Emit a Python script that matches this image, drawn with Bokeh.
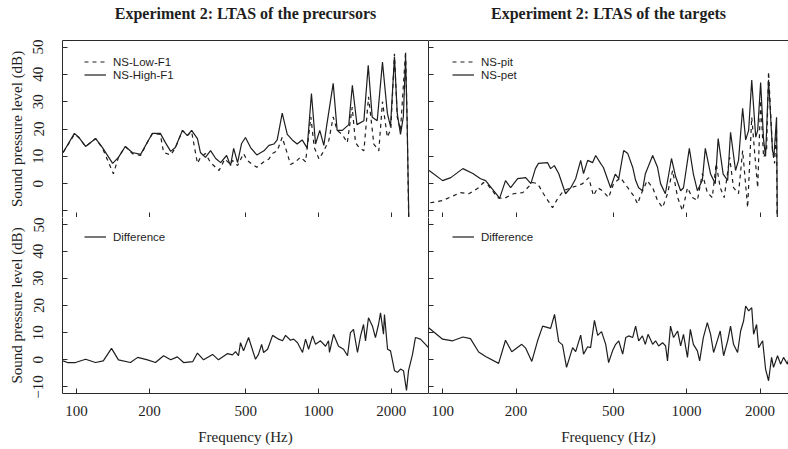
from bokeh.plotting import figure
from bokeh.layouts import row, column
from bokeh.models import (Range1d, FixedTicker, PrintfTickFormatter, Legend, LegendItem,
                          LogAxis, CustomJSTickFormatter)
from bokeh.embed import file_html
from bokeh.resources import INLINE

# ---------------- data ----------------
titles = ["Experiment 2: LTAS of the precursors", "Experiment 2: LTAS of the targets"]
x_ticks = [100, 200, 500, 1000, 2000]
y_ticks = [-10, 0, 10, 20, 30, 40, 50]

# precursors: NS-High-F1 (solid)
hi_f = [88, 98, 102, 109, 120, 128, 141, 149, 159, 170, 184, 198, 206, 222, 233, 245, 256, 274, 287, 299,
        316, 325, 341, 358, 376, 394, 417, 433, 446, 463, 481, 499, 524, 556, 595, 624, 654, 675, 708, 743,
        779, 816, 856, 898, 935, 972, 1012, 1052, 1082, 1150, 1194, 1254, 1334, 1380, 1442, 1540, 1605, 1667, 1748, 1838,
        1925, 1984, 2060, 2115, 2182, 2242, 2290, 2325, 2380]
hi_db = [11.4, 18.4, 17, 13.6, 16.5, 13.2, 7.4, 9.6, 13.6, 11.4, 10.7, 15.8, 18.4, 18.4, 15, 11.8, 13.2, 19.5, 17.6, 19.5,
         16.5, 11.4, 9.6, 12.1, 9.2, 7.7, 10.3, 6.6, 12.9, 7.7, 14.7, 16.9, 13.2, 10.5, 12, 14, 14.5, 16, 25.8, 18,
         16, 14.5, 16, 13, 33, 14.5, 19.5, 14, 21.5, 36.7, 19.5, 19.5, 21.6, 36, 21.6, 23, 43.3, 24.3, 23, 44.5,
         25.8, 20.9, 46.5, 25.8, 18, 24.5, 46.5, 22, -30]

# precursors: NS-Low-F1 (dashed)
lo_f = [88, 98, 102, 109, 120, 128, 142, 149, 159, 170, 184, 198, 206, 222, 229, 245, 256, 274, 287, 299,
        316, 325, 341, 358, 388, 410, 433, 441, 463, 490, 507, 533, 556, 595, 624, 645, 675, 708, 743, 766,
        804, 843, 884, 930, 960, 1005, 1052, 1103, 1150, 1194, 1254, 1315, 1378, 1422, 1469, 1540, 1610, 1693, 1775, 1838,
        1925, 1990, 2060, 2115, 2182, 2290, 2325, 2375]
lo_db = [11.4, 18, 17, 13.6, 16.5, 13, 3.6, 9.6, 13.6, 11, 10.3, 15.8, 18.4, 18, 11.4, 10.5, 13, 19.5, 17.6, 19,
         7.4, 9.5, 11, 7.7, 4.8, 9, 7, 8.5, 6.6, 11, 8.5, 7, 6, 8, 9, 11, 12, 17, 11, 7,
         8, 9.7, 8, 24.4, 13.3, 9, 12, 15.8, 24.4, 19.5, 18, 15, 28, 15, 13.3, 12, 31.8, 14.5, 12, 30,
         17, 20, 47.5, 24.4, 19.5, 48.5, 22, -30]

# targets: NS-pet (solid)
pet_f = [88, 100, 108, 121, 133, 143, 150, 168, 171, 181, 190, 203, 219, 230, 240, 247, 269, 277, 287, 299,
         319, 335, 351, 368, 378, 393, 412, 424, 444, 456, 488, 510, 527, 552, 574, 601, 618, 636, 659, 677,
         726, 760, 782, 818, 867, 902, 945, 971, 1026, 1066, 1107, 1160, 1193, 1254, 1310, 1347, 1412, 1473, 1514, 1587,
         1632, 1697, 1746, 1796, 1849, 1920, 1956, 2011, 2068, 2107, 2167, 2250, 2280, 2337, 2362]
pet_db = [4.8, 1.1, 2.2, 5.5, 3.7, 1.8, 1.1, -4.4, -5.5, 1.1, -1.5, 1.8, 2.2, 0, 5.5, 7.4, 7.7, 5.5, 6.6, 3.7,
          -3.7, -1.5, 1.8, 8.5, 3.7, 8.5, 7.7, 10.3, 7.4, 5.9, -1.5, 3.5, 1.8, 12.1, 11, 6, 1.2, -1.5, -2.6, 3.5,
          10.3, 6, 0, -3.7, 9.2, 2.5, -2.6, -1.5, 12.9, 3.5, -2.6, 1.2, 12.9, 3.5, 0, 16.5, 3.5, 1.2, 18.8, 4.8,
          8.5, 27.6, 16, 19.5, 37.9, 17, 19.5, 37, 16, 10, 38, 12, 10, 24.3, -30]

# targets: NS-pit (dashed)
pit_f = [89, 100, 111, 118, 128, 139, 147, 154, 168, 178, 195, 213, 234, 245, 259, 282, 296, 313, 335, 358,
         375, 397, 415, 432, 452, 479, 502, 536, 574, 606, 630, 647, 689, 726, 760, 797, 835, 876, 919, 962,
         1008, 1056, 1107, 1160, 1216, 1274, 1322, 1373, 1426, 1501, 1557, 1632, 1697, 1779, 1849, 1902, 1956, 2011, 2068, 2127,
         2167, 2250, 2293, 2337, 2355]
pit_db = [-7, -6.2, -4.4, -3.3, -3.7, -1.8, 0.4, -0.7, -5.1, -5.5, -3.7, -3.3, 0.4, 0, -3.7, -8.8, -5.5, -2.6, -1.5, -0.7,
          0, 2.2, -4.4, -1.5, -2.6, -5.1, 0, 2.2, -1.5, -4.4, -7.4, -4.4, 1.1, -1.5, -6.2, -8.8, -3.7, 4.8, -5.1, -9.9,
          -1.5, -5.1, -6.2, 3.7, -3.3, -5.1, 7.4, -1.5, -5.1, 9.6, -1.5, -3.7, 12.1, -8.8, 24.3, 11, -1.5, 30.5, 9.6, 12.1,
          41, 12.1, 7.4, 20.6, -30]

# precursors: difference
dl_f = [88, 91.8, 99, 109, 119.8, 129, 139.5, 149, 167, 179, 196.5, 212, 229, 245, 261, 277, 302, 316, 335, 365,
        386, 421, 441, 454, 467, 476, 490, 514, 549, 565, 582, 593, 616, 646, 684, 710, 731, 766, 789, 819,
        859, 884, 910, 945, 972, 1019, 1069, 1100, 1110, 1154, 1210, 1269, 1318, 1355, 1395, 1449, 1492, 1535, 1564, 1609,
        1671, 1719, 1770, 1804, 1856, 1873, 1929, 1984, 2061, 2121, 2182, 2245, 2310, 2355, 2446, 2515, 2638, 2767, 2848]
dl_db = [-0.4, -1, -1, 0.2, -1, -0.4, 4.2, 0, -1, 0.9, 0, -1, 1.5, 0, 1.1, -1, -0.7, 2.5, 0, 2,
         0, 2.3, 1.8, 3, 1.5, 6.3, 3.3, 8.2, 0.2, 2, 5.7, 2.7, 3.9, 9, 7.6, 7, 9, 7.2, 7.6, 6.3,
         2.7, 7.6, 3.9, 8.8, 5.7, 7, 5, 7, 2.7, 9.4, 5, 3.9, 1.5, 10, 11.2, 2.7, 8.8, 13, 7, 15.5,
         12.4, 8.2, 13, 17.3, 9.4, 16.7, 3.9, 3.3, -4, -4.6, -3.4, -4, -11.3, -4, 2, 8.2, 7.6, 5.7, 4.5]

# targets: difference
dr_f = [87.6, 100, 110, 121, 130, 140.5, 150, 169.6, 181, 192, 211, 219, 232, 245, 257, 277, 287.5, 299, 310, 322,
        341, 351, 368, 378, 393, 404, 419, 432, 448, 466, 479, 497, 512, 527, 547, 563, 579, 601, 618, 636,
        659, 677, 695, 726, 746, 768, 797, 820, 835, 859, 884, 919, 945, 971, 1008, 1036, 1066, 1107, 1131, 1171,
        1216, 1254, 1290, 1335, 1373, 1418, 1473, 1514, 1557, 1618, 1665, 1712, 1746, 1796, 1849, 1882, 1936, 1973, 2049, 2107,
        2167, 2230, 2271, 2359, 2428, 2496, 2591, 2616]
dr_db = [11.8, 7.6, 7, 8.4, 7.8, 2.9, 1.2, -1.3, 7.2, 3, 5.7, 4.3, -0.6, 7, 12.4, 11.6, 16.7, 6.7, 5.5, -2.8,
         4.5, 3, 9.1, 2.1, 4.8, 4.5, 14.5, 9, 10.4, 5.7, -1, 3.3, 5.7, 7, 2.1, 8.2, 8.8, 8.2, 12.4, 7,
         8.8, 5.7, 9.4, 5.7, 7, 5.1, 6.3, 5.1, -0.4, 12.4, 8.2, 10.6, 5.1, 9.4, 0.9, 11.2, 5.7, 3.3, -0.4, 8.2,
         13.7, 9.4, 2.7, 7, 10.6, 1.5, 7, 12.4, 5.7, 2.7, 10.6, 14.3, 19.8, 18, 19.2, 9.4, 13, 4.5, 7, -3.4,
         -7.7, 0.9, -2.8, 1.5, -1.6, 0.9, -1.6, 0]

# ---------------- styling ----------------
SERIF = "Liberation Serif"
SANS = "Liberation Sans"
INK = "#1e1e1e"
AX = "#2a2a2a"
DASH = "4 4"


def panel(width, height, x_end, left, top, title=None):
    p = figure(width=width, height=height, x_axis_type="log",
               x_range=Range1d(87.5, x_end), y_range=Range1d(-12.4, 52.4),
               output_backend="svg", toolbar_location=None)
    p.min_border_left = 62 if left else 0
    p.min_border_right = 0
    p.min_border_top = 40 if top else 0
    p.min_border_bottom = 0 if top else 56
    p.outline_line_color = None
    p.xgrid.visible = False
    p.ygrid.visible = False
    p.background_fill_color = "white"
    p.border_fill_color = "white"

    xa = p.xaxis[0]
    xa.ticker = FixedTicker(ticks=x_ticks)
    xa.axis_line_color = AX
    xa.major_tick_line_color = AX
    xa.major_tick_in = 5
    xa.major_tick_out = 0
    xa.minor_tick_line_color = None
    if top:
        xa.formatter = CustomJSTickFormatter(code="return ''")
        xa.major_label_standoff = 0
        xa.major_label_text_font_size = "1px"
    else:
        xa.formatter = PrintfTickFormatter(format="%d")
        xa.major_label_text_font = SERIF
        xa.major_label_text_font_size = "15px"
        xa.major_label_text_color = INK
        xa.major_label_standoff = 12
        xa.axis_label = "Frequency (Hz)"
        xa.axis_label_text_font = SERIF
        xa.axis_label_text_font_size = "15px"
        xa.axis_label_text_font_style = "normal"
        xa.axis_label_text_color = INK
        xa.axis_label_standoff = 10

    ya = p.yaxis[0]
    ya.ticker = FixedTicker(ticks=y_ticks)
    ya.axis_line_color = AX
    ya.major_tick_line_color = AX
    ya.major_tick_in = 5
    ya.major_tick_out = 0
    ya.minor_tick_line_color = None
    if left:
        ya.major_label_text_font = SERIF
        ya.major_label_text_font_size = "15px"
        ya.major_label_text_color = INK
        ya.major_label_orientation = "vertical"
        ya.major_label_standoff = 19
        ya.axis_label = "Sound pressure level (dB)"
        ya.axis_label_text_font = SERIF
        ya.axis_label_text_font_size = "15px"
        ya.axis_label_text_font_style = "normal"
        ya.axis_label_text_color = INK
        ya.axis_label_standoff = 6
        if top:
            ya.major_label_overrides = {-10: ""}
    else:
        ya.formatter = CustomJSTickFormatter(code="return ''")
        ya.major_label_standoff = 0
        ya.major_label_text_font_size = "1px"

    if top:
        # top frame edge; its axis label carries the panel title
        ta = LogAxis(ticker=FixedTicker(ticks=[]), axis_line_color=AX,
                     major_tick_line_color=None, minor_tick_line_color=None,
                     major_label_text_font_size="1px", major_label_standoff=0,
                     axis_label=title, axis_label_text_font=SERIF,
                     axis_label_text_font_size="16px", axis_label_text_font_style="bold",
                     axis_label_text_color=INK, axis_label_standoff=19)
        p.add_layout(ta, "above")
    return p


def add_legend(p, items, x, y):
    leg = Legend(items=items, location=(x, y), orientation="vertical",
                 padding=0, margin=0, spacing=0,
                 glyph_width=22, glyph_height=13, label_height=13, label_standoff=7,
                 label_text_font=SANS, label_text_font_size="11.5px", label_text_color=INK,
                 border_line_color=None, background_fill_alpha=0)
    p.add_layout(leg)


LW = 1.2

# top-left
p_tl = panel(428, 217, 2848, True, True, titles[0])
r_lo = p_tl.line(lo_f, lo_db, line_color=INK, line_width=LW, line_dash=DASH)
r_hi = p_tl.line(hi_f, hi_db, line_color=INK, line_width=LW)
add_legend(p_tl, [LegendItem(label="NS-Low-F1", renderers=[r_lo]),
                  LegendItem(label="NS-High-F1", renderers=[r_hi])], 22, 136)

# top-right
p_tr = panel(360, 217, 2616, False, True, titles[1])
r_pit = p_tr.line(pit_f, pit_db, line_color=INK, line_width=LW, line_dash=DASH)
r_pet = p_tr.line(pet_f, pet_db, line_color=INK, line_width=LW)
add_legend(p_tr, [LegendItem(label="NS-pit", renderers=[r_pit]),
                  LegendItem(label="NS-pet", renderers=[r_pet])], 24, 136)

# bottom-left
p_bl = panel(428, 232, 2848, True, False)
r_dl = p_bl.line(dl_f, dl_db, line_color=INK, line_width=LW)
add_legend(p_bl, [LegendItem(label="Difference", renderers=[r_dl])], 22, 150)

# bottom-right
p_br = panel(360, 232, 2616, False, False)
r_dr = p_br.line(dr_f, dr_db, line_color=INK, line_width=LW)
add_legend(p_br, [LegendItem(label="Difference", renderers=[r_dr])], 24, 150)

layout = row(column(p_tl, p_bl), column(p_tr, p_br))

with open("out.html", "w") as fh:
    fh.write(file_html(layout, INLINE))
